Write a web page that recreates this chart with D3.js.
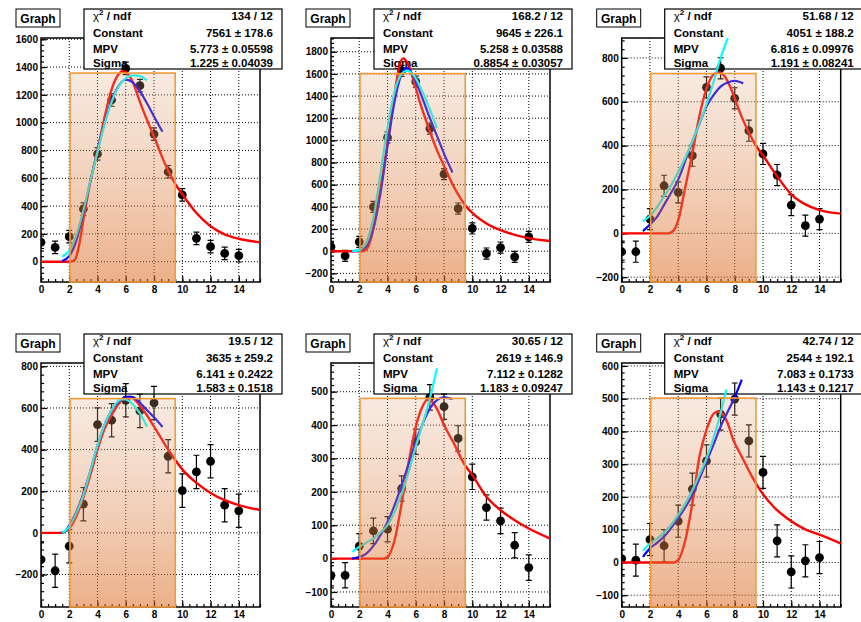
<!DOCTYPE html>
<html>
<head>
<meta charset="utf-8">
<script src="https://cdn.jsdelivr.net/npm/d3@7"></script>
<style>
  body { margin: 0; background: #fff; }
  svg { display: block; }
  text { font-family: "Liberation Sans", Arial, sans-serif; font-weight: bold; }
</style>
</head>
<body>
<svg id="chart" width="861" height="622"></svg>
<script>
// x positions of the measured points (same in every pad)
var pointX = [0, 1, 2, 3, 4, 5, 6, 7, 8, 9, 10, 11, 12, 13, 14];

// measured values, one list per pad
var y1 = [140, 103, 180, 379, 775, 1163, 1391, 1266, 918, 647, 480, 168, 108, 60, 43];
var y2 = [39, -42, 84, 400, 1026, 1627, 1530, 1107, 695, 385, 205, -21, 33, -51, 129];
var y3 = [-84, -84, 65, 217, 187, 354, 666, 753, 616, 468, 362, 266, 129, 35, 65];
var y4 = [-128, -182, -64, 138, 520, 541, 637, 586, 624, 368, 203, 293, 344, 133, 106];
var y5 = [-50, -50, 37, 83, 88, 210, 350, 483, 455, 360, 245, 153, 113, 40, -27];
var y6 = [12, 7, 70, 51, 126, 224, 310, 453, 499, 371, 275, 66, -29, 5, 15];

// errors
var e1 = [45, 45, 45, 45, 45, 45, 45, 45, 45, 45, 45, 45, 45, 45, 45];
var e2 = [50, 50, 50, 50, 50, 50, 50, 50, 50, 50, 50, 50, 50, 50, 50];
var e3 = [48, 48, 48, 48, 48, 48, 48, 48, 48, 48, 48, 48, 48, 48, 48];
var e4 = [80, 80, 80, 80, 80, 80, 80, 80, 80, 80, 80, 80, 80, 80, 80];
var e5 = [38, 38, 38, 38, 38, 38, 38, 38, 38, 38, 38, 38, 38, 38, 38];
var e6 = [49, 49, 49, 49, 49, 49, 49, 49, 49, 49, 49, 49, 49, 49, 49];

// fitted curves: [x, y]
var red1 = [[0,0],[2.1,0],[2.4,15],[2.7,120],[3,300],[3.5,580],[4,800],[4.5,1040],[5,1240],[5.5,1350],[5.8,1370],[6.2,1345],[6.5,1290],[7,1150],[7.5,1020],[8,900],[8.5,770],[9,655],[9.5,560],[10,485],[11,350],[12,255],[13,197],[14,165],[15.5,140]];
var blue1 = [[1.5,5],[2,40],[2.5,150],[3,350],[3.5,580],[4,800],[4.5,1000],[5,1160],[5.5,1265],[6,1310],[6.5,1290],[7,1225],[7.5,1140],[8,1045],[8.6,935]];
var cyan1 = [[1.5,36],[2,80],[2.5,190],[3,370],[3.5,585],[4,790],[4.5,990],[5,1150],[5.5,1260],[6,1320],[6.5,1340],[7,1335],[7.5,1305]];

var red2 = [[0,0],[2.2,0],[2.5,15],[2.8,100],[3.1,280],[3.5,560],[4,980],[4.5,1420],[4.8,1650],[5.1,1740],[5.4,1700],[5.8,1560],[6.3,1340],[7,1080],[7.5,910],[8,770],[8.5,630],[9,510],[9.5,415],[10,345],[11,250],[12,190],[13,148],[14,118],[15.5,92]];
var blue2 = [[1.5,0],[2,5],[2.5,40],[3,200],[3.5,520],[4,950],[4.5,1350],[5,1600],[5.3,1655],[5.6,1630],[6,1530],[6.5,1370],[7,1200],[7.5,1040],[8,880],[8.6,710]];
var cyan2 = [[1.5,0],[2,10],[2.5,80],[3,300],[3.5,700],[4,1120],[4.5,1440],[5,1600],[5.4,1630],[6,1560],[6.5,1430],[7,1280],[7.5,1110]];

var red3 = [[0,0],[3.3,0],[3.7,15],[4,60],[4.5,210],[5,365],[5.5,535],[6,660],[6.5,725],[6.9,735],[7.3,715],[7.7,665],[8,615],[8.5,530],[9,460],[9.5,400],[10,355],[11,260],[12,178],[13,132],[14,106],[15.5,90]];
var blue3 = [[1.5,10],[2,40],[2.5,75],[3,130],[3.5,185],[4,245],[4.5,330],[5,418],[5.5,500],[6,578],[6.5,630],[7,669],[7.5,688],[8,695],[8.6,684]];
var cyan3 = [[1.5,55],[2,80],[2.5,120],[3,170],[3.5,220],[4,280],[4.5,345],[5,420],[5.5,500],[6,590],[6.5,690],[7,800],[7.5,890]];

var red4 = [[0,0],[1.4,0],[1.8,10],[2.1,30],[2.5,80],[3,170],[3.5,280],[4,400],[4.5,500],[5,565],[5.5,620],[6,648],[6.3,652],[6.7,635],[7,610],[7.5,565],[8,510],[8.5,455],[9,400],[9.5,350],[10,305],[11,240],[12,192],[13,157],[14,133],[15.5,110]];
var blue4 = [[1.5,0],[1.7,8],[2,35],[2.5,100],[3,190],[3.5,300],[4,420],[4.5,520],[5,590],[5.5,630],[6,652],[6.3,655],[6.7,645],[7,625],[7.5,590],[8,555],[8.6,509]];
var cyan4 = [[1.5,0],[1.7,8],[2,30],[2.5,95],[3,180],[3.5,300],[4,420],[4.5,520],[5,590],[5.5,635],[5.8,642],[6.2,635],[6.6,610],[7,575],[7.5,510]];

var red5 = [[0,0],[3.7,0],[4,5],[4.5,55],[5,165],[5.5,290],[6,395],[6.5,458],[6.85,477],[7.2,468],[7.6,440],[8,400],[8.7,345],[9.4,285],[10,250],[11,185],[12,145],[13,115],[14,90],[15.5,60]];
var blue5 = [[1.5,0],[2,5],[2.5,15],[3,38],[3.5,70],[4,110],[4.5,160],[5,220],[5.5,285],[6,350],[6.5,405],[7,450],[7.5,475],[8,483],[8.6,478]];
var cyan5 = [[1.5,20],[2,35],[2.5,48],[3,60],[3.5,78],[4,100],[4.5,140],[5,195],[5.5,260],[6,335],[6.5,405],[7,480],[7.5,570]];

var red6 = [[0,0],[3.7,0],[4,7],[4.5,68],[5,180],[5.5,323],[6,405],[6.5,454],[6.8,461],[7.1,455],[7.5,425],[7.9,374],[8.5,323],[9.1,272],[9.8,221],[10.75,170],[11.7,135],[13.1,99],[14,85],[15.5,58]];
var blue6 = [[1.5,17],[2,43],[2.5,60],[3,79],[3.5,105],[4,135],[4.5,168],[5,206],[5.5,255],[6,308],[6.5,360],[7,415],[7.5,460],[8,505],[8.5,558]];
var cyan6 = [[1.5,36],[2,58],[2.5,73],[3,91],[3.5,115],[4,145],[4.5,180],[5,221],[5.5,268],[6,318],[6.5,380],[7,456],[7.4,528]];

// y ranges and tick steps of each pad
var yRanges = [[-146, 1609], [-278, 1924], [-222, 891], [-356, 816], [-145, 586], [-136, 609]];
var yMajor = [200, 200, 200, 200, 100, 100];
// top of the shaded fit window in each pad
var windowTop = [1357, 1603, 729, 645, 480, 502];
var windowX = [2.05, 9.5];

// fit result boxes
var statNames = ["Constant", "MPV", "Sigma"];
var chi2 = ["134 / 12", "168.2 / 12", "51.68 / 12", "19.5 / 12", "30.65 / 12", "42.74 / 12"];
var constants = ["7561 \u00b1 178.6", "9645 \u00b1 226.1", "4051 \u00b1 188.2", "3635 \u00b1 259.2", "2619 \u00b1 146.9", "2544 \u00b1 192.1"];
var mpvs = ["5.773 \u00b1 0.05598", "5.258 \u00b1 0.03588", "6.816 \u00b1 0.09976", "6.141 \u00b1 0.2422", "7.112 \u00b1 0.1282", "7.083 \u00b1 0.1733"];
var sigmas = ["1.225 \u00b1 0.04039", "0.8854 \u00b1 0.03057", "1.191 \u00b1 0.08241", "1.583 \u00b1 0.1518", "1.183 \u00b1 0.09247", "1.143 \u00b1 0.1217"];

var ys = [y1, y2, y3, y4, y5, y6];
var errs = [e1, e2, e3, e4, e5, e6];
var reds = [red1, red2, red3, red4, red5, red6];
var blues = [blue1, blue2, blue3, blue4, blue5, blue6];
var cyans = [cyan1, cyan2, cyan3, cyan4, cyan5, cyan6];

// pad layout
var W = 219, H = 244;
var padLeft = [41, 331, 621.7];
var padTop = [38, 363];

var svg = d3.select("#chart");

// gradient of the shaded window
var grad = svg.append("defs").append("linearGradient")
    .attr("id", "win").attr("x1", 0).attr("y1", 0).attr("x2", 0).attr("y2", 1);
grad.append("stop").attr("offset", "0%").attr("stop-color", "rgb(225,170,130)").attr("stop-opacity", 0.25);
grad.append("stop").attr("offset", "100%").attr("stop-color", "rgb(220,110,40)").attr("stop-opacity", 0.55);

ys.forEach(function(yv, i) {
  var ox = padLeft[i % 3], oy = padTop[Math.floor(i / 3)];
  var g = svg.append("g").attr("transform", "translate(" + ox + "," + oy + ")");

  var x = d3.scaleLinear().domain([0, 15.5]).range([0, W]);
  var y = d3.scaleLinear().domain(yRanges[i]).range([H, 0]);

  var step = yMajor[i];
  var yTicks = d3.range(Math.ceil(yRanges[i][0] / step) * step, yRanges[i][1] + 1, step);
  var yMinor = d3.range(Math.ceil(yRanges[i][0] / (step / 5)) * (step / 5), yRanges[i][1], step / 5);
  var xTicks = d3.range(0, 15, 2);
  var xMinor = d3.range(0, 15.6, 0.5);

  g.append("clipPath").attr("id", "clip" + i)
    .append("rect").attr("width", W).attr("height", H);

  // dotted grid
  g.selectAll(".gx").data(xTicks.slice(1)).enter().append("line")
    .attr("x1", function(d) { return x(d); }).attr("x2", function(d) { return x(d); })
    .attr("y1", 0).attr("y2", H)
    .attr("stroke", "#000").attr("stroke-width", 1).attr("stroke-dasharray", "1,2");
  g.selectAll(".gy").data(yTicks).enter().append("line")
    .attr("x1", 0).attr("x2", W)
    .attr("y1", function(d) { return y(d); }).attr("y2", function(d) { return y(d); })
    .attr("stroke", "#000").attr("stroke-width", 1).attr("stroke-dasharray", "1,2");

  // axes, ticks pointing into the frame
  var xa = g.append("g").attr("transform", "translate(0," + H + ")")
    .call(d3.axisBottom(x).tickValues(xTicks).tickSize(-6).tickPadding(4).tickFormat(d3.format("d")));
  g.append("g").attr("transform", "translate(0," + H + ")")
    .call(d3.axisBottom(x).tickValues(xMinor).tickSize(-3).tickFormat(""));
  var ya = g.append("g")
    .call(d3.axisLeft(y).tickValues(yTicks).tickSize(-6).tickPadding(3).tickFormat(d3.format("d")));
  g.append("g")
    .call(d3.axisLeft(y).tickValues(yMinor).tickSize(-3).tickFormat(""));
  g.selectAll(".domain").remove();
  g.selectAll(".tick line").attr("stroke", "#000").attr("stroke-width", 1.2);
  g.selectAll(".tick text")
    .attr("font-family", "'Liberation Sans', Arial, sans-serif")
    .attr("font-weight", "bold").attr("font-size", 10).attr("fill", "#000");

  g.append("rect").attr("width", W).attr("height", H)
    .attr("fill", "none").attr("stroke", "#000").attr("stroke-width", 1.5);

  // title box
  g.append("rect").attr("x", -25).attr("y", -29).attr("width", 44).attr("height", 18)
    .attr("fill", "#fff").attr("stroke", "#000").attr("stroke-width", 1);
  g.append("text").attr("x", -3).attr("y", -15).attr("text-anchor", "middle")
    .attr("font-size", 12).text("Graph");

  // stats box
  var sb = g.append("g").attr("transform", "translate(43,-29)");
  sb.append("rect").attr("width", 198).attr("height", 60)
    .attr("fill", "#fff").attr("stroke", "#000").attr("stroke-width", 1.2);
  var rowsY = [11, 28, 43.5, 57.5];
  var chiText = sb.append("text").attr("x", 9).attr("y", rowsY[0]).attr("font-size", 11.5);
  chiText.append("tspan").attr("font-weight", "normal").text("\u03c7");
  chiText.append("tspan").attr("dy", -5).attr("font-size", 8).text("2");
  chiText.append("tspan").attr("dy", 5).text(" / ndf");
  sb.append("text").attr("x", 189).attr("y", rowsY[0]).attr("text-anchor", "end")
    .attr("font-size", 11.5).text(chi2[i]);
  var vals = [constants[i], mpvs[i], sigmas[i]];
  statNames.forEach(function(n, k) {
    sb.append("text").attr("x", 9).attr("y", rowsY[k + 1]).attr("font-size", 11.5).text(n);
    sb.append("text").attr("x", 189).attr("y", rowsY[k + 1]).attr("text-anchor", "end")
      .attr("font-size", 11.5).text(vals[k]);
  });

  // points, errors and curves
  var plot = g.append("g").attr("clip-path", "url(#clip" + i + ")");
  var pts = pointX.map(function(px, k) { return { x: px, y: yv[k], e: errs[i][k] }; });
  plot.selectAll(".eb").data(pts).enter().append("path")
    .attr("d", function(d) {
      var cx = x(d.x), t = y(d.y + d.e), b = y(d.y - d.e);
      return "M" + cx + "," + t + "V" + b + "M" + (cx - 3) + "," + t + "H" + (cx + 3) +
             "M" + (cx - 3) + "," + b + "H" + (cx + 3);
    })
    .attr("stroke", "#000").attr("stroke-width", 1.2).attr("fill", "none");
  plot.selectAll(".pt").data(pts).enter().append("circle")
    .attr("cx", function(d) { return x(d.x); })
    .attr("cy", function(d) { return y(d.y); })
    .attr("r", 4.4).attr("fill", "#000");

  var line = d3.line()
    .x(function(d) { return x(d[0]); })
    .y(function(d) { return y(d[1]); })
    .curve(d3.curveMonotoneX);
  plot.append("path").attr("d", line(reds[i])).attr("fill", "none")
    .attr("stroke", "#ff0000").attr("stroke-width", 2.4);
  plot.append("path").attr("d", line(blues[i])).attr("fill", "none")
    .attr("stroke", "#0000ff").attr("stroke-width", 2.2);
  plot.append("path").attr("d", line(cyans[i])).attr("fill", "none")
    .attr("stroke", "#00ffff").attr("stroke-width", 2.2);

  // shaded fit window drawn over everything
  g.append("rect")
    .attr("x", x(windowX[0])).attr("width", x(windowX[1]) - x(windowX[0]))
    .attr("y", y(windowTop[i])).attr("height", H - y(windowTop[i]))
    .attr("fill", "url(#win)").attr("stroke", "#f39a3a").attr("stroke-width", 1.6);
});
</script>
</body>
</html>
